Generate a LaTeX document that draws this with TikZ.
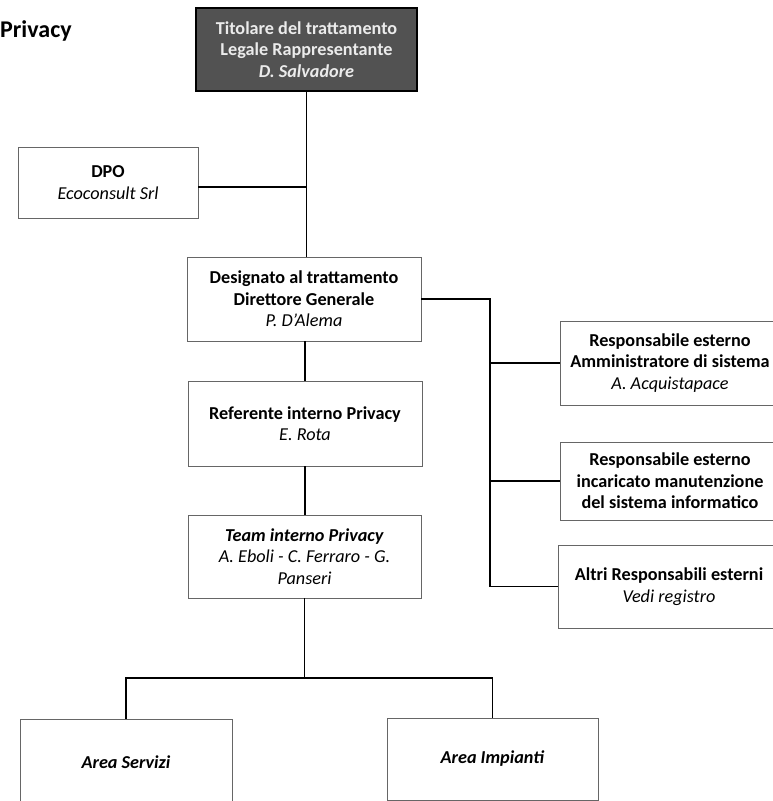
\documentclass[tikz,border=0pt]{standalone}
\usepackage{fontspec}
\setmainfont{Carlito}
\begin{document}
\begin{tikzpicture}[x=1pt,y=-1pt]
\tikzset{
  box/.style={draw=black!60, line width=0.7pt, rectangle, align=center, inner sep=1pt,
              font=\fontsize{18.2}{21.5}\selectfont},
  dark/.style={box, fill=black!68, draw=black, line width=1.4pt, text=white!92!black},
  conn/.style={line width=1.9pt, draw=black},
}
\useasboundingbox (0,0) rectangle (773,801);

\node[anchor=west, inner sep=0pt, font=\fontsize{24}{28}\selectfont\bfseries] (title) at (0,31) {Privacy};

\node[dark, minimum width=221pt, minimum height=83pt] (top) at (306.5,49.5)
  {\textbf{Titolare del trattamento}\\\textbf{Legale Rappresentante}\\\textbf{\textit{D. Salvadore}}};
\node[box, minimum width=180pt, minimum height=71pt] (dpo) at (108,182.5)
  {\textbf{DPO}\\\textit{Ecoconsult Srl}};
\node[box, minimum width=234pt, minimum height=84pt] (des) at (304,299)
  {\textbf{Designato al trattamento}\\\textbf{Direttore Generale}\\\textit{P. D’Alema}};
\node[box, minimum width=234pt, minimum height=85pt] (ref) at (305,423.5)
  {\textbf{Referente interno Privacy}\\\textit{E. Rota}};
\node[box, minimum width=233pt, minimum height=83pt] (team) at (304.5,556.5)
  {\textbf{\textit{Team interno Privacy}}\\\textit{A. Eboli - C. Ferraro - G.}\\\textit{Panseri}};

\node[box, minimum width=220pt, minimum height=84pt] (r1) at (670,363)
  {\textbf{Responsabile esterno}\\\textbf{Amministratore di sistema}\\\textit{A. Acquistapace}};
\node[box, minimum width=220pt, minimum height=78pt] (r2) at (670,481)
  {\textbf{Responsabile esterno}\\\textbf{incaricato manutenzione}\\\textbf{del sistema informatico}};
\node[box, minimum width=222pt, minimum height=83pt] (r3) at (669,586.5)
  {\textbf{Altri Responsabili esterni}\\\textit{Vedi registro}};

\node[box, minimum width=212pt, minimum height=86pt] (as) at (126,762)
  {\textbf{\textit{Area Servizi}}};
\node[box, minimum width=211pt, minimum height=82pt] (ai) at (492.5,759)
  {\textbf{\textit{Area Impianti}}};

\coordinate (bus) at (490,300);
\coordinate (bar) at (305,678);

\draw[conn] (top.south) -- (top.south |- des.north);
\draw[conn] ([yshift=-4.5pt]dpo.east) -- ([yshift=-4.5pt]dpo.east -| top.south);
\draw[conn] (des.east) -- (des.east -| bus) -- (bus |- r3.west) -- (r3.west);
\draw[conn] (bus |- r1.west) -- (r1.west);
\draw[conn] (bus |- r2.west) -- (r2.west);
\draw[conn] (des.south -| ref.north) -- (ref.north);
\draw[conn] (ref.south) -- (team.north -| ref.south);
\draw[conn] (team.south) -- (team.south |- bar);
\draw[conn] (as.north) -- (as.north |- bar) -- (ai.north |- bar) -- (ai.north);
\end{tikzpicture}
\end{document}
